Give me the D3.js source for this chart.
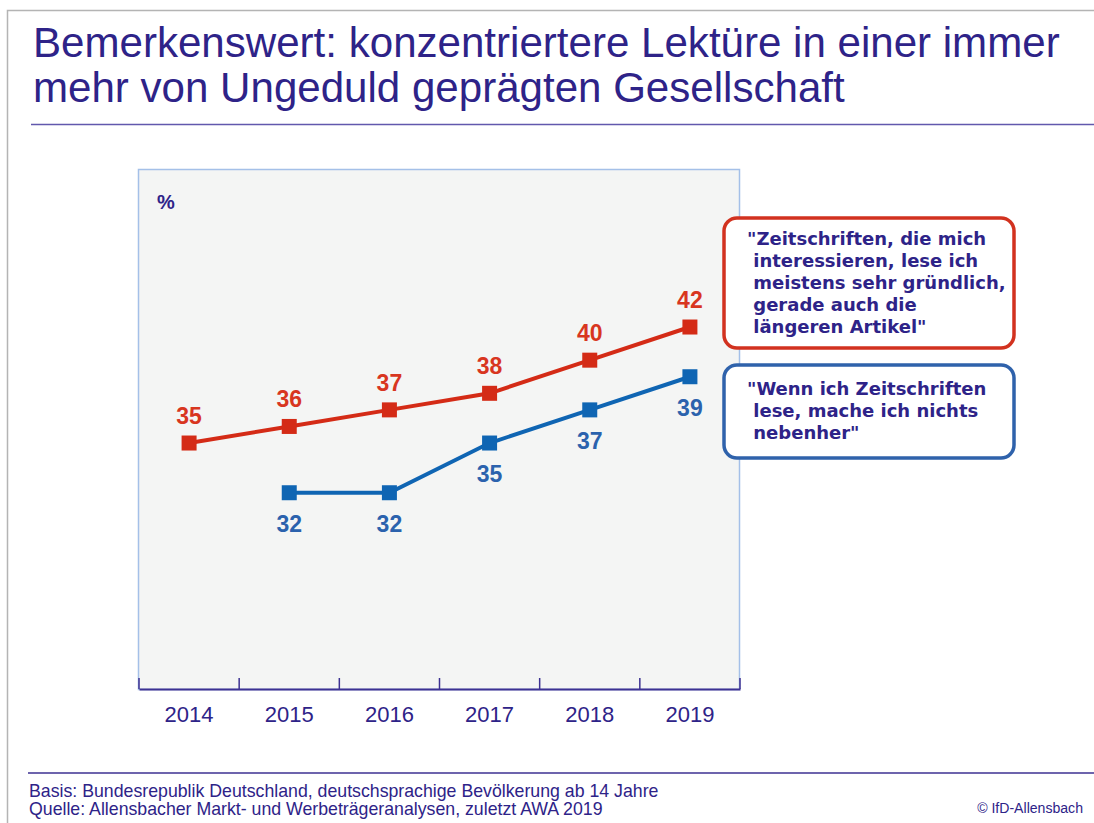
<!DOCTYPE html>
<html>
<head>
<meta charset="utf-8">
<script src="https://cdn.jsdelivr.net/npm/d3@7"></script>
<style>
  body { margin: 0; background: #fff; }
  svg { display: block; font-family: "Liberation Sans", Arial, sans-serif; }
</style>
</head>
<body>
<svg id="mysvg"></svg>
<script>
const w = 1094, h = 823;
const ink = "#2e2388";
const red = "#d42b16", blue = "#0f65b3";
const redLabel = "#d8361f", blueLabel = "#2b62ad";

const titleLines = [
    "Bemerkenswert: konzentriertere Lektüre in einer immer",
    "mehr von Ungeduld geprägten Gesellschaft"
];
const years = ["2014", "2015", "2016", "2017", "2018", "2019"];
const thoroughValues = [35, 36, 37, 38, 40, 42];
const focusedValues = [null, 32, 32, 35, 37, 39];
const thoroughLegend = [
    "\"Zeitschriften, die mich",
    " interessieren, lese ich",
    " meistens sehr gründlich,",
    " gerade auch die",
    " längeren Artikel\""
];
const focusedLegend = [
    "\"Wenn ich Zeitschriften",
    " lese, mache ich nichts",
    " nebenher\""
];
const footLines = [
    "Basis: Bundesrepublik Deutschland, deutschsprachige Bevölkerung ab 14 Jahre",
    "Quelle: Allensbacher Markt- und Werbeträgeranalysen, zuletzt AWA 2019"
];
const copyright = "© IfD-Allensbach";

const svg = d3.select("#mysvg")
    .attr("width", w)
    .attr("height", h);

// frame of the slide
svg.append("path")
    .attr("d", "M7.5," + h + " V10.5 H" + w)
    .attr("fill", "none")
    .attr("stroke", "#b4b4b4")
    .attr("stroke-width", 1.5);

// scale a text's font size so that it spans the target width
function fitText(sel, target) {
    const len = sel.node().getComputedTextLength();
    const fs = parseFloat(sel.attr("font-size"));
    sel.attr("font-size", fs * target / len);
    return fs * target / len;
}

// title
const title = svg.append("g");
title.selectAll("text")
    .data(titleLines)
    .enter().append("text")
    .attr("x", 33)
    .attr("y", (d, i) => 57 + i * 45)
    .attr("font-size", 36)
    .attr("fill", ink)
    .text(d => d);
const titleSize = fitText(title.select("text"), 1027);
title.selectAll("text").attr("font-size", titleSize);

svg.append("line")
    .attr("x1", 31).attr("x2", w)
    .attr("y1", 124.5).attr("y2", 124.5)
    .attr("stroke", "#6258ad")
    .attr("stroke-width", 1.5);

// plot area
const xScale = d3.scaleBand()
    .domain(years)
    .range([139, 740]);

const yScale = d3.scaleLinear()
    .domain([20, 52])
    .range([691.6, 161.3]);

const cx = d => xScale(d) + xScale.bandwidth() / 2;

svg.append("rect")
    .attr("x", 138.5).attr("y", 169.5)
    .attr("width", 601).attr("height", 520)
    .attr("fill", "#f4f5f4")
    .attr("stroke", "#a4c0e8")
    .attr("stroke-width", 1.5);

svg.append("text")
    .attr("x", 157).attr("y", 209)
    .attr("font-size", 20)
    .attr("font-weight", "bold")
    .attr("fill", ink)
    .text("%");

// X axis
const xAxis = svg.append("g")
    .attr("class", "x axis")
    .attr("transform", "translate(0,689)")
    .call(d3.axisBottom(xScale).tickSize(0).tickPadding(17));
xAxis.select(".domain")
    .attr("stroke", "#3d3192")
    .attr("stroke-width", 2);
xAxis.selectAll("text")
    .attr("font-size", 22)
    .attr("font-family", "Liberation Sans, Arial, sans-serif")
    .attr("fill", ink);

const bounds = years.map(d => xScale(d)).concat([xScale.range()[1]]);
svg.selectAll(".band-tick")
    .data(bounds)
    .enter().append("line")
    .attr("class", "band-tick")
    .attr("x1", d => d).attr("x2", d => d)
    .attr("y1", 678).attr("y2", 689)
    .attr("stroke", "#3d3192")
    .attr("stroke-width", 1.5);

// series
const series = [
    { values: thoroughValues, color: red, label: redLabel, dy: -19 },
    { values: focusedValues, color: blue, label: blueLabel, dy: 39 }
];

const line = d3.line()
    .defined(d => d.v !== null)
    .x(d => cx(d.year))
    .y(d => yScale(d.v));

series.forEach(s => {
    const pts = years.map((y, i) => ({ year: y, v: s.values[i] }));
    const valid = pts.filter(d => d.v !== null);

    svg.append("path")
        .datum(pts)
        .attr("fill", "none")
        .attr("stroke", s.color)
        .attr("stroke-width", 4)
        .attr("d", line);

    svg.append("g").selectAll("rect")
        .data(valid)
        .enter().append("rect")
        .attr("x", d => cx(d.year) - 7.5)
        .attr("y", d => yScale(d.v) - 7.5)
        .attr("width", 15).attr("height", 15)
        .attr("fill", s.color);

    svg.append("g").selectAll("text")
        .data(valid)
        .enter().append("text")
        .attr("x", d => cx(d.year))
        .attr("y", d => yScale(d.v) + s.dy)
        .attr("text-anchor", "middle")
        .attr("font-size", 23)
        .attr("font-weight", "bold")
        .attr("fill", s.label)
        .text(d => d.v);
});

// legend boxes
function legendBox(lines, color, y0, height, base) {
    svg.append("rect")
        .attr("x", 724).attr("y", y0)
        .attr("width", 290).attr("height", height)
        .attr("rx", 13)
        .attr("fill", "#fff")
        .attr("stroke", color)
        .attr("stroke-width", 3.5);
    svg.append("g").selectAll("text")
        .data(lines)
        .enter().append("text")
        .attr("x", 747)
        .attr("y", (d, i) => base + i * 22)
        .attr("font-family", "DejaVu Sans, sans-serif")
        .attr("font-size", 18)
        .attr("font-weight", "bold")
        .attr("fill", ink)
        .style("white-space", "pre")
        .text(d => d);
}
legendBox(thoroughLegend, "#d2321f", 218, 130, 245);
legendBox(focusedLegend, "#2f62ab", 365, 93, 395);

// footer
svg.append("line")
    .attr("x1", 28).attr("x2", w)
    .attr("y1", 773).attr("y2", 773)
    .attr("stroke", "#3d3192")
    .attr("stroke-width", 1.5);

const foot = svg.append("g");
foot.selectAll("text")
    .data(footLines)
    .enter().append("text")
    .attr("x", 29)
    .attr("y", (d, i) => 797 + i * 18)
    .attr("font-size", 15)
    .attr("fill", ink)
    .text(d => d);
const footSize = fitText(foot.select("text"), 630);
foot.selectAll("text").attr("font-size", footSize);

const copy = svg.append("text")
    .attr("x", 1083).attr("y", 813)
    .attr("text-anchor", "end")
    .attr("font-size", 13)
    .attr("fill", ink)
    .text(copyright);
fitText(copy, 106);
</script>
</body>
</html>
